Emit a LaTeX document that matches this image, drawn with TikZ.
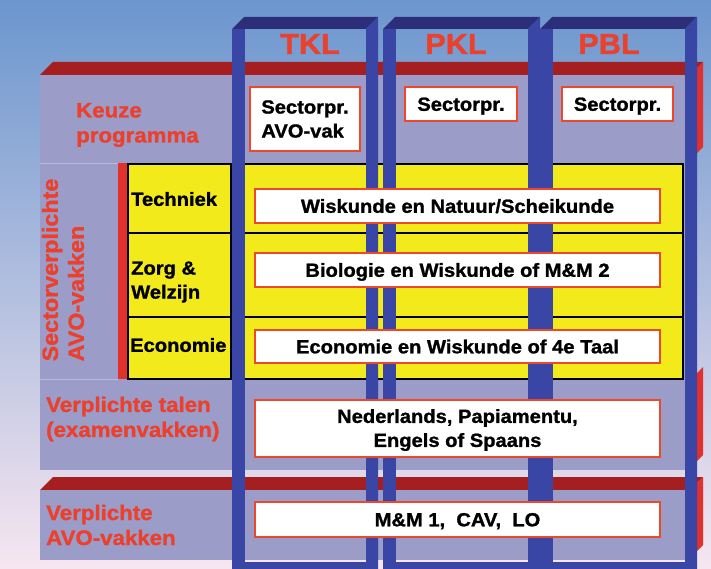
\documentclass[tikz,border=0pt]{standalone}
\usepackage{fontspec}
\setmainfont{Liberation Sans}[FakeStretch=1.06, BoldFeatures={FakeBold=1.2}]
\definecolor{bgtop}{RGB}{108,150,206}
\definecolor{bgmid}{RGB}{170,200,232}
\definecolor{bgbot}{RGB}{246,230,240}
\definecolor{slabpurple}{RGB}{155,156,200}
\definecolor{bevelred}{RGB}{165,30,32}
\definecolor{sidered}{RGB}{226,48,44}
\definecolor{labelred}{RGB}{234,64,44}
\definecolor{frameblue}{RGB}{58,70,166}
\definecolor{framenavy}{RGB}{44,46,122}
\definecolor{sectoryellow}{RGB}{243,234,28}
\definecolor{boxred}{RGB}{238,72,42}
\tikzset{
  slab/.style={fill=slabpurple},
  slabtop/.style={fill=bevelred},
  slabside/.style={fill=sidered},
  divider/.style={draw=slabpurple!70!white, line width=0.8pt},
  colbar/.style={fill=frameblue},
  coltop/.style={fill=framenavy},
  vakbox/.style={
    draw=boxred,
    line width=2.5pt,
    fill=white,
    inner sep=0pt,
    font=\bfseries\fontsize{19}{24}\selectfont,
    align=center
  },
  oneline/.style={text height=13.6pt, text depth=0pt},
  redlabel/.style={
    text=labelred,
    font=\bfseries\fontsize{21}{25}\selectfont,
    align=left,
    inner sep=0pt
  },
  sectorlabel/.style={
    anchor=west,
    inner sep=0pt,
    align=left,
    font=\bfseries\fontsize{19}{24}\selectfont
  },
  coltitle/.style={
    text=labelred,
    font=\bfseries\fontsize{29}{29}\selectfont,
    inner sep=0pt
  }
}
\begin{document}
\begin{tikzpicture}[x=1pt, y=-1pt]
  \useasboundingbox (0,0) rectangle (711,569);
  \shade[top color=bgtop, middle color=bgmid, bottom color=bgbot] (0,0) rectangle (711,569);

  % upper block
  \fill[slabtop] (40,75) -- (53,62) -- (703,62) -- (690,75) -- cycle;
  \fill[slab] (40,75) rectangle (690,470);
  \fill[slabside] (690,75) -- (703,62) -- (703,147) -- (690,160) -- cycle;
  \fill[slabside] (690,380) -- (703,367) -- (703,455) -- (690,468) -- cycle;
  \draw[divider] (40,163) -- (118,163) (40,379) -- (118,379);

  % sector rows
  \fill[sidered] (118,163) rectangle (128,379);
  \filldraw[fill=sectoryellow, draw=black, line width=1.5pt] (128,164) rectangle (683,379);
  \draw[black, line width=1.5pt] (128,233) -- (683,233) (128,317) -- (683,317) (231,164) -- (231,379);

  % lower block
  \fill[slabtop] (40,490) -- (53,477) -- (703,477) -- (690,490) -- cycle;
  \fill[slab] (40,490) rectangle (690,560);
  \fill[slabside] (690,490) -- (703,477) -- (703,545) -- (690,558) -- cycle;

  % columns
  \foreach \l/\r/\tx/\naam in {232/378/310/TKL, 383/540/456/PKL, 540/697/609/PBL}{
    \fill[coltop] (\l,29) -- (\l+12,17) -- (\r,17) -- (\r-12,29) -- cycle;
    \fill[colbar] (\r-12,29) -- (\r,17) -- (\r,575) -- (\r-12,575) -- cycle;
    \fill[colbar] (\l,29) rectangle (\l+13,575);
    \fill[colbar] (\l,562) rectangle (\r,575);
    \node[coltitle] (titel\naam) at (\tx,44) {\naam};
  }

  \node[vakbox, align=left, minimum width=110pt, minimum height=64pt] (keuzeTKL) at (305,119) {Sectorpr.\\AVO-vak};
  \node[vakbox, oneline, minimum width=112pt, minimum height=34pt] (keuzePKL) at (461,104) {Sectorpr.};
  \node[vakbox, oneline, minimum width=111pt, minimum height=34pt] (keuzePBL) at (617.5,104) {Sectorpr.};
  \node[vakbox, oneline, minimum width=405pt, minimum height=34pt] (techniek) at (457.5,206) {Wiskunde en Natuur/Scheikunde};
  \node[vakbox, oneline, minimum width=405pt, minimum height=34pt] (zorg) at (457.5,270) {Biologie en Wiskunde of M\&M 2};
  \node[vakbox, oneline, minimum width=405pt, minimum height=33pt] (economie) at (457.5,346.5) {Economie en Wiskunde of 4e Taal};
  \node[vakbox, minimum width=405pt, minimum height=57pt, text depth=1pt] (talen) at (457.5,428.5) {Nederlands, Papiamentu,\\Engels of Spaans};
  \node[vakbox, oneline, minimum width=405pt, minimum height=35pt] (avo) at (457.5,519.5) {M\&M 1,\ \ CAV,\ \ LO};

  \node[redlabel, anchor=west] (keuze) at (76,125) {Keuze\\programma};
  \node[redlabel, rotate=90, font=\bfseries\fontsize{22}{26}\selectfont] (sectorverpl) at (63,270) {Sectorverplichte\\AVO-vakken};
  \node[redlabel, anchor=west] (verpltalen) at (46,419) {Verplichte talen\\(examenvakken)};
  \node[redlabel, anchor=west] (verplavo) at (46,525) {Verplichte\\AVO-vakken};
  \node[sectorlabel] (lbltechniek) at (131,199) {Techniek};
  \node[sectorlabel] (lblzorg) at (131,282) {Zorg \&\\Welzijn};
  \node[sectorlabel] (lbleconomie) at (130,345) {Economie};
\end{tikzpicture}
\end{document}
